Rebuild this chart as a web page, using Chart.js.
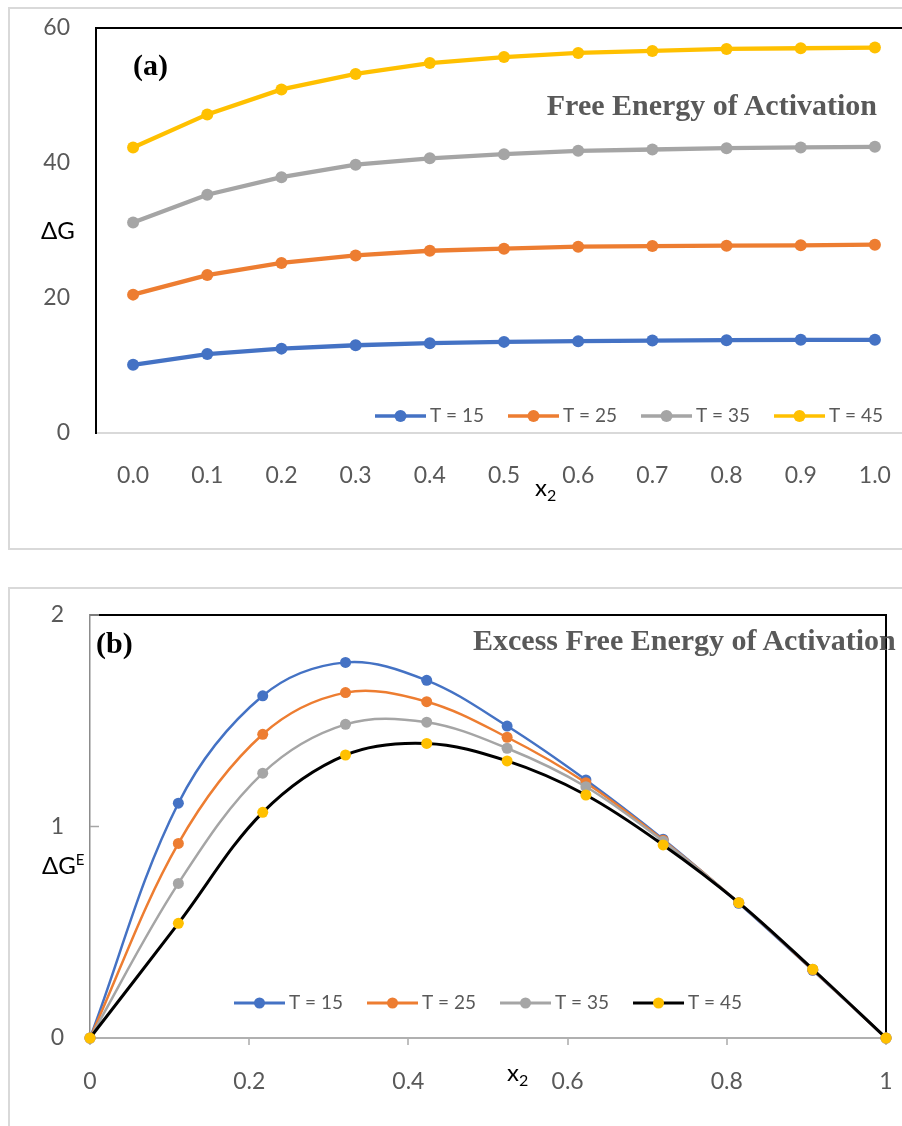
<!DOCTYPE html>
<html><head><meta charset="utf-8">
<script src="https://cdn.jsdelivr.net/npm/chart.js@4.4.1/dist/chart.umd.min.js"></script>
<style>
html,body{margin:0;padding:0;background:#fff;overflow:hidden;width:902px;height:1126px;position:relative;}
.frame{position:absolute;border:2px solid #d9d9d9;box-sizing:border-box;}
.lbl{position:absolute;white-space:nowrap;line-height:1;}
.title{font-family:"Liberation Serif","Times New Roman",serif;font-weight:bold;font-size:30px;color:#595959;}
.tag{font-family:"Liberation Serif","Times New Roman",serif;font-weight:bold;font-size:30px;color:#000;}
.ax{font-family:Lato,"Open Sans",sans-serif;font-size:24px;color:#000;}
.ax sub{font-size:16px;vertical-align:-5px;}
.ax sup{font-size:15px;vertical-align:9px;}
canvas{position:absolute;}
</style></head><body>
<div class="frame" style="left:8px;top:7px;width:930px;height:543px"></div>
<div class="frame" style="left:8px;top:587px;width:930px;height:600px"></div>
<canvas id="ca" width="920" height="560" style="left:0;top:0"></canvas>
<canvas id="cb" width="902" height="546" style="left:0;top:580px"></canvas>
<div class="lbl tag" style="left:133px;top:50px">(a)</div>
<div class="lbl title" style="right:25px;top:90px">Free Energy of Activation</div>
<div class="lbl ax" style="left:41px;top:218px">ΔG</div>
<div class="lbl ax" style="left:535px;top:475px">x<sub>2</sub></div>
<div class="lbl tag" style="left:96px;top:628px">(b)</div>
<div class="lbl title" style="left:473px;top:625px">Excess Free Energy of Activation</div>
<div class="lbl ax" style="left:42px;top:852px">ΔG<sup>E</sup></div>
<div class="lbl ax" style="left:507px;top:1060px">x<sub>2</sub></div>
<script>
// ---- data (a) ----
const x2a = ['0.0','0.1','0.2','0.3','0.4','0.5','0.6','0.7','0.8','0.9','1.0'];
const a15 = [10.1, 11.7, 12.5, 13.0, 13.3, 13.5, 13.6, 13.7, 13.75, 13.8, 13.8];
const a25 = [20.5, 23.4, 25.2, 26.3, 27.0, 27.3, 27.6, 27.7, 27.75, 27.8, 27.9];
const a35 = [31.2, 35.3, 37.9, 39.75, 40.7, 41.3, 41.8, 42.0, 42.2, 42.3, 42.4];
const a45 = [42.3, 47.2, 50.9, 53.2, 54.8, 55.7, 56.3, 56.6, 56.9, 57.0, 57.1];
// ---- data (b) ----
const x2b = [0, 0.111, 0.217, 0.321, 0.423, 0.524, 0.623, 0.720, 0.815, 0.908, 1];
const b15 = [0, 1.11, 1.618, 1.776, 1.691, 1.475, 1.22, 0.94, 0.637, 0.32, 0];
const b25 = [0, 0.92, 1.436, 1.633, 1.59, 1.422, 1.207, 0.935, 0.64, 0.322, 0];
const b35 = [0, 0.731, 1.252, 1.483, 1.493, 1.37, 1.188, 0.93, 0.64, 0.325, 0];
const b45 = [0, 0.542, 1.067, 1.338, 1.393, 1.31, 1.149, 0.913, 0.64, 0.325, 0];
const seriesLabels = ['T = 15', 'T = 25', 'T = 35', 'T = 45'];
const yTicksA = [0, 20, 40, 60];
const yTicksB = [0, 1, 2];
const xTicksB = [0, 0.2, 0.4, 0.6, 0.8, 1];
const xTickLabelsB = ['0', '0.2', '0.4', '0.6', '0.8', '1'];

const BLUE='#4472C4', ORANGE='#ED7D31', GRAY='#A5A5A5', GOLD='#FFC000';

Chart.defaults.font.family = 'Lato, "Open Sans", sans-serif';

const legendPlugin = {
  id: 'customLegend',
  afterDraw(chart, args, o) {
    const ctx = chart.ctx;
    ctx.save();
    ctx.font = o.font;
    let x = o.x; const y = o.y;
    chart.data.datasets.forEach(ds => {
      ctx.strokeStyle = ds.borderColor; ctx.lineWidth = o.lineWidth; ctx.lineCap = 'butt';
      ctx.beginPath(); ctx.moveTo(x, y); ctx.lineTo(x + o.lineLen, y); ctx.stroke();
      ctx.fillStyle = ds.pointBackgroundColor;
      ctx.beginPath(); ctx.arc(x + o.lineLen / 2, y, o.r, 0, Math.PI * 2); ctx.fill();
      ctx.fillStyle = o.color; ctx.textBaseline = 'middle'; ctx.textAlign = 'left';
      const tx = x + o.lineLen + o.gap;
      ctx.fillText(ds.label, tx, y);
      x = tx + ctx.measureText(ds.label).width + o.itemGap;
    });
    ctx.restore();
  }
};

const frameA = {
  id: 'frameA',
  beforeDatasetsDraw(chart) {
    const {ctx, chartArea: a} = chart;
    ctx.save();
    ctx.strokeStyle = '#000'; ctx.lineWidth = 2;
    ctx.beginPath(); ctx.moveTo(a.left - 1, a.top); ctx.lineTo(a.right + 20, a.top); ctx.stroke();
    ctx.restore();
  }
};

const frameB = {
  id: 'frameB',
  beforeDatasetsDraw(chart) {
    const {ctx, chartArea: a} = chart;
    const ys = chart.scales.y;
    ctx.save();
    ctx.strokeStyle = '#000'; ctx.lineWidth = 2;
    ctx.beginPath(); ctx.moveTo(a.left, a.top); ctx.lineTo(a.right, a.top); ctx.lineTo(a.right, a.bottom); ctx.stroke();
    ctx.strokeStyle = '#a6a6a6'; ctx.lineWidth = 1.5;
    ys.ticks.forEach(t => {
      const py = ys.getPixelForValue(t.value);
      if (t.value === 0) return;
      ctx.beginPath(); ctx.moveTo(a.left, py); ctx.lineTo(a.left + 9, py); ctx.stroke();
    });
    ctx.restore();
  }
};

function fixW(w){ return s => { s.width = w; s.paddingTop = 0; s.paddingBottom = 0; }; }
function fixH(h){ return s => { s.height = h; s.paddingLeft = 0; s.paddingRight = 0; }; }

new Chart(document.getElementById('ca'), {
  type: 'line',
  data: {
    labels: x2a,
    datasets: [a15, a25, a35, a45].map((d, i) => {
      const c = [BLUE, ORANGE, GRAY, GOLD][i];
      return { label: seriesLabels[i], data: d, borderColor: c, backgroundColor: c,
        pointBackgroundColor: c, pointBorderColor: c, borderWidth: 4.3, pointRadius: 6,
        pointBorderWidth: 0, tension: 0, clip: false };
    })
  },
  options: {
    responsive: false, animation: false, events: [],
    layout: { padding: { left: 0, right: 8, top: 28, bottom: 0 } },
    plugins: { legend: { display: false }, tooltip: { enabled: false },
      customLegend: { x: 375, y: 416, lineLen: 51, gap: 4, itemGap: 24, r: 6, lineWidth: 3.5,
        font: '19px Lato, "Open Sans", sans-serif', color: '#595959' } },
    scales: {
      x: { type: 'category', offset: true,
        grid: { display: false, drawTicks: false },
        border: { display: true, color: '#d9d9d9', width: 2 },
        ticks: { color: '#595959', font: { size: 23 }, padding: 29, maxRotation: 0, autoSkip: false },
        afterFit: fixH(127) },
      y: { min: 0, max: 60,
        afterBuildTicks: s => { s.ticks = yTicksA.map(v => ({ value: v })); },
        grid: { display: false, drawTicks: false },
        border: { display: true, color: '#000', width: 2 },
        ticks: { color: '#595959', font: { size: 23 }, padding: 26 },
        afterFit: fixW(96) }
    }
  },
  plugins: [legendPlugin, frameA]
});

const seriesB = [b15, b25, b35, b45];
new Chart(document.getElementById('cb'), {
  type: 'line',
  data: {
    datasets: seriesB.map((d, i) => {
      const c = [BLUE, ORANGE, GRAY, '#000'][i];
      const pc = [BLUE, ORANGE, GRAY, GOLD][i];
      return { label: seriesLabels[i], data: x2b.map((x, k) => ({ x: x, y: d[k] })),
        borderColor: c, backgroundColor: pc, pointBackgroundColor: pc, pointBorderColor: pc,
        borderWidth: i === 3 ? 3 : 2.5, pointRadius: 5.5, pointBorderWidth: 0,
        tension: 0.35, clip: false, order: 4 - i };
    })
  },
  options: {
    responsive: false, animation: false, events: [],
    layout: { padding: { left: 0, right: 16, top: 35, bottom: 0 } },
    plugins: { legend: { display: false }, tooltip: { enabled: false },
      customLegend: { x: 234, y: 423, lineLen: 51, gap: 4, itemGap: 24, r: 5.5, lineWidth: 3,
        font: '19px Lato, "Open Sans", sans-serif', color: '#595959' } },
    scales: {
      x: { type: 'linear', min: 0, max: 1,
        afterBuildTicks: s => { s.ticks = xTicksB.map(v => ({ value: v })); },
        ticks: { color: '#595959', font: { size: 23 }, padding: 23, maxRotation: 0,
          callback: (v) => { const k = xTicksB.indexOf(v); return k >= 0 ? xTickLabelsB[k] : ''; } },
        grid: { display: true, drawOnChartArea: false, drawTicks: true, tickLength: 7, color: '#bfbfbf', lineWidth: 2 },
        border: { display: true, color: '#b0b0b0', width: 2 },
        afterFit: fixH(88) },
      y: { min: 0, max: 2,
        afterBuildTicks: s => { s.ticks = yTicksB.map(v => ({ value: v })); },
        grid: { display: false, drawTicks: false },
        border: { display: true, color: '#8c8c8c', width: 1.5 },
        ticks: { color: '#595959', font: { size: 23 }, padding: 26 },
        afterFit: fixW(90) }
    }
  },
  plugins: [legendPlugin, frameB]
});
</script>
</body></html>
